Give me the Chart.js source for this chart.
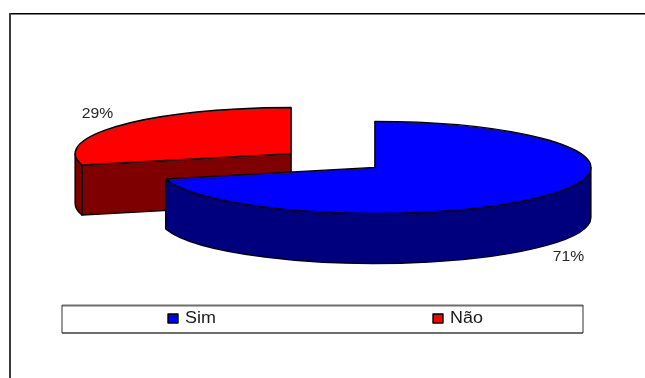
<!DOCTYPE html>
<html>
<head>
<meta charset="utf-8">
<title>Sim / Não</title>
<style>
  html, body { margin: 0; padding: 0; background: #ffffff; }
  canvas { display: block; }
</style>
<script src="https://cdn.jsdelivr.net/npm/chart.js@4/dist/chart.umd.js"></script>
</head>
<body>
<canvas id="chart" width="645" height="378"></canvas>
<script>
// Survey answers and their share of the total, in percent.
const categories = ['Sim', 'Não'];
const shares = [71, 29];

// Colours of the top faces and of the extruded walls.
const topColors = ['#0000ff', '#ff0000'];
const wallColors = ['#00007f', '#7f0000'];

// Projection of the pie: radius, vertical squash, wall height, slice separation.
const RADIUS = 216;
const TILT = 0.213;
const DEPTH = 50;
const EXPLODE = 53;
const OUTLINE = 1.4;
const FONT = '"Liberation Sans", Arial, sans-serif';

// Pie controller that lays slices on a tilted plane and extrudes them downwards.
class Pie3DController extends Chart.PieController {
  static id = 'pie3d';

  placement(arc) {
    const mid = (arc.startAngle + arc.endAngle) / 2;
    return {
      cx: arc.x + Math.cos(mid) * EXPLODE,
      cy: arc.y + Math.sin(mid) * EXPLODE * TILT,
      ry: arc.outerRadius * TILT,
      mid
    };
  }

  drawWalls(ctx, arc, color) {
    const { cx, cy, ry } = this.placement(arc);
    const R = arc.outerRadius;
    const s = arc.startAngle, e = arc.endAngle;
    ctx.fillStyle = color;
    ctx.strokeStyle = '#000000';
    ctx.lineWidth = OUTLINE;
    ctx.lineJoin = 'round';

    // Flat cut faces that turn towards the viewer.
    const faces = [];
    if (Math.cos(s) < -1e-6) faces.push(s);
    if (Math.cos(e) > 1e-6) faces.push(e);
    for (const a of faces) {
      const px = cx + R * Math.cos(a), py = cy + ry * Math.sin(a);
      ctx.beginPath();
      ctx.moveTo(cx, cy);
      ctx.lineTo(px, py);
      ctx.lineTo(px, py + DEPTH);
      ctx.lineTo(cx, cy + DEPTH);
      ctx.closePath();
      ctx.fill();
      ctx.stroke();
    }

    // Curved rim, limited to the front half of the ellipse.
    const norm = (a) => ((a % (2 * Math.PI)) + 2 * Math.PI) % (2 * Math.PI);
    const from = norm(s);
    const to = from + (e - s);
    const ranges = [[0, Math.PI], [2 * Math.PI, 3 * Math.PI]];
    for (const [lo, hi] of ranges) {
      const a0 = Math.max(from, lo), a1 = Math.min(to, hi);
      if (a1 <= a0) continue;
      ctx.beginPath();
      ctx.ellipse(cx, cy, R, ry, 0, a0, a1);
      ctx.ellipse(cx, cy + DEPTH, R, ry, 0, a1, a0, true);
      ctx.closePath();
      ctx.fill();
      ctx.stroke();
    }
  }

  drawTop(ctx, arc) {
    const { cx, cy, ry } = this.placement(arc);
    ctx.save();
    ctx.translate(cx, cy);
    ctx.scale(1, TILT);
    ctx.translate(-arc.x, -arc.y);
    arc.draw(ctx);
    ctx.restore();

    ctx.beginPath();
    ctx.moveTo(cx, cy);
    ctx.ellipse(cx, cy, arc.outerRadius, ry, 0, arc.startAngle, arc.endAngle);
    ctx.closePath();
    ctx.strokeStyle = '#000000';
    ctx.lineWidth = OUTLINE;
    ctx.lineJoin = 'round';
    ctx.stroke();
  }

  draw() {
    const ctx = this.chart.ctx;
    const arcs = this._cachedMeta.data;
    // The rear slice goes first so the front one can overlap it.
    const order = arcs.map((_, i) => i).reverse();
    for (const i of order) this.drawWalls(ctx, arcs[i], wallColors[i]);
    for (const i of order) this.drawTop(ctx, arcs[i]);
  }
}
Chart.register(Pie3DController);

// Text widened slightly along x, as the labels of this chart are set.
function wideText(ctx, text, x, y, size, color, align) {
  const stretch = 1.12;
  ctx.save();
  ctx.translate(x, y);
  ctx.scale(stretch, 1);
  ctx.font = size + 'px ' + FONT;
  ctx.fillStyle = color;
  ctx.textAlign = align;
  ctx.textBaseline = 'alphabetic';
  ctx.fillText(text, 0, 0);
  ctx.restore();
}

// Frame of the chart: only the top and left sides are ruled.
const frame = {
  id: 'frame',
  beforeDatasetsDraw(chart) {
    const ctx = chart.ctx;
    ctx.save();
    ctx.fillStyle = '#000000';
    ctx.fillRect(10, 13, 635, 1.5);
    ctx.fillStyle = '#3a3a3a';
    ctx.fillRect(9, 13, 2, 365);
    ctx.restore();
  }
};

// Percent labels placed just beyond the rim of each slice.
const percentLabels = {
  id: 'percentLabels',
  afterDatasetsDraw(chart) {
    const ctx = chart.ctx;
    const meta = chart.getDatasetMeta(0);
    const ctrl = meta.controller;
    meta.data.forEach((arc, i) => {
      const { cx, cy, ry, mid } = ctrl.placement(arc);
      const front = Math.sin(mid) > 0;
      const x = cx + arc.outerRadius * Math.cos(mid) + Math.sign(Math.cos(mid)) * 23;
      const y = cy + ry * Math.sin(mid) + (front ? DEPTH + 10 : -12);
      wideText(ctx, shares[i] + '%', x, y + 5, 14, '#262626', 'center');
    });
  }
};

// Boxed legend under the pie, with the two entries spread out along it.
const boxedLegend = {
  id: 'boxedLegend',
  afterDraw(chart) {
    const ctx = chart.ctx;
    const box = { left: 62, top: 305, right: 583, bottom: 333 };
    ctx.save();
    ctx.fillStyle = '#6e6e6e';
    ctx.fillRect(box.left, box.top - 0.5, box.right - box.left, 2);
    ctx.fillRect(box.left, box.bottom - 1, box.right - box.left, 2);
    ctx.fillStyle = '#333333';
    ctx.fillRect(box.left - 0.5, box.top, 1, box.bottom - box.top);
    ctx.fillRect(box.right - 0.5, box.top, 1, box.bottom - box.top);

    categories.forEach((name, i) => {
      const x = 168 + i * 265;
      ctx.fillStyle = topColors[i];
      ctx.fillRect(x, 314, 10, 9);
      ctx.strokeStyle = '#000000';
      ctx.lineWidth = 1.4;
      ctx.strokeRect(x, 314, 10, 9);
      wideText(ctx, name, x + 17, 323, 16, '#1a1a1a', 'left');
    });
    ctx.restore();
  }
};

new Chart(document.getElementById('chart'), {
  type: 'pie3d',
  data: {
    labels: categories,
    datasets: [{
      data: shares,
      backgroundColor: topColors,
      borderWidth: 0
    }]
  },
  options: {
    responsive: false,
    animation: false,
    radius: RADIUS,
    layout: { padding: { left: 21, right: 0, top: 0, bottom: 57 } },
    plugins: { legend: { display: false }, tooltip: { enabled: false } }
  },
  plugins: [frame, percentLabels, boxedLegend]
});
</script>
</body>
</html>
